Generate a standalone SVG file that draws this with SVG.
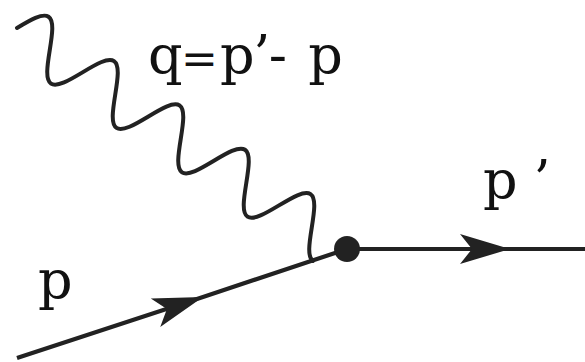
<svg xmlns="http://www.w3.org/2000/svg" width="585" height="362" viewBox="0 0 585 362">
  <style>
    .line { fill: none; stroke: #222; stroke-width: 4.2; stroke-linejoin: round; }
    .wave { fill: none; stroke: #222; stroke-width: 4; stroke-linecap: round; }
    .lbl { font-family: 'DejaVu Serif', 'Liberation Serif', serif; font-size: 54px; fill: #111; }
  </style>
  <defs>
    <marker id="arr" markerUnits="userSpaceOnUse" viewBox="-52 -17 54 34" refX="0" refY="0" markerWidth="54" markerHeight="34" orient="auto" overflow="visible">
      <path d="M0,0 L-50,-15 L-38,0 L-50,15 Z" fill="#222"/>
    </marker>
  </defs>
  <rect width="585" height="362" fill="#fff"/>
  <g id="connectors">
    <path id="photon" class="wave" transform="translate(17,28) rotate(34.1)" d="M0,0 c6.449,-13.83 12.618,-27 19.775,-27 s13.326,13.17 19.775,27 s12.618,27 19.775,27 s13.326,-13.17 19.775,-27 s12.618,-27 19.775,-27 s13.326,13.17 19.775,27 s12.618,27 19.775,27 s13.326,-13.17 19.775,-27 s12.618,-27 19.775,-27 s13.326,13.17 19.775,27 s12.618,27 19.775,27 s13.326,-13.17 19.775,-27 s12.618,-27 19.775,-27 s13.326,13.17 19.775,27 s12.618,27 19.775,27 s13.326,-13.17 19.775,-27 s12.618,-27 19.775,-27 s13.326,13.17 19.775,27 s12.618,27 19.775,27"/>
    <polyline id="incoming" class="line" points="17,358 203,297 347,249" marker-mid="url(#arr)"/>
    <polyline id="outgoing" class="line" points="347,249 510,249 585,249" marker-mid="url(#arr)"/>
  </g>
  <g id="vertex">
    <circle cx="347" cy="249" r="13" fill="#222"/>
  </g>
  <g id="labels">
    <text class="lbl" x="148" y="74" letter-spacing="-1.5" word-spacing="-12">q<tspan font-size="44">=</tspan> p’-<tspan dx="19"> p</tspan></text>
    <text class="lbl" x="483" y="199">p<tspan dx="16">’</tspan></text>
    <text class="lbl" x="38" y="299">p</text>
  </g>
</svg>
